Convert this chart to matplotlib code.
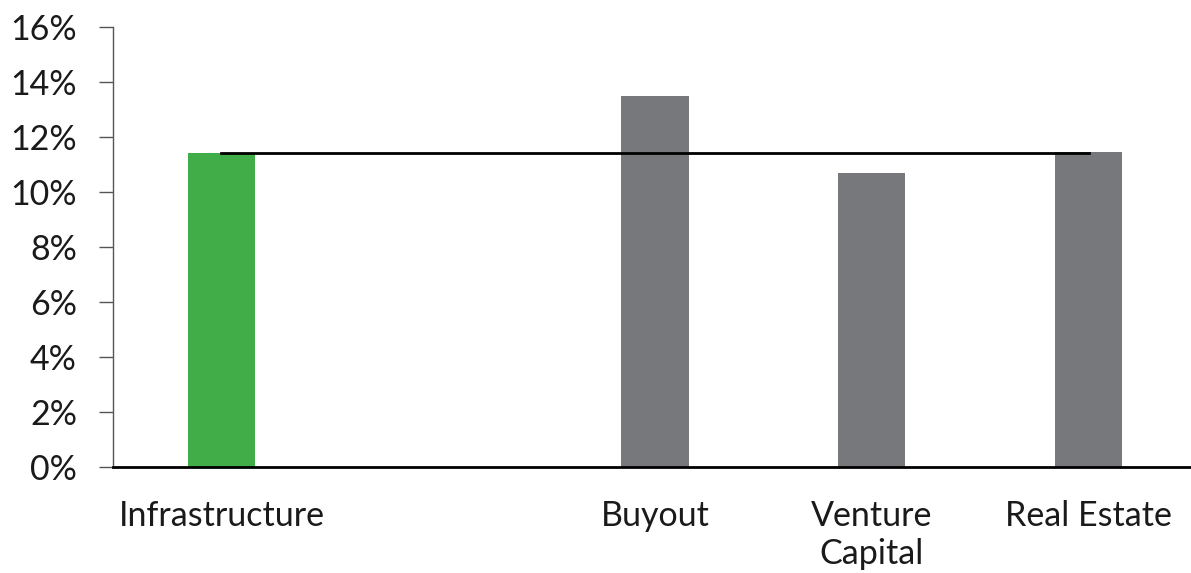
import matplotlib.pyplot as plt
import numpy as np

categories = ['Infrastructure', '', 'Buyout', 'Venture\nCapital', 'Real Estate']
returns = [11.41, np.nan, 13.49, 10.68, 11.44]
average = [11.43, 11.43, 11.43, 11.43, 11.43]
bar_colors = ['#41ad49', '#77787b', '#77787b', '#77787b', '#77787b']
yticks = [0, 2, 4, 6, 8, 10, 12, 14, 16]

plt.rcParams['font.family'] = ['Lato', 'DejaVu Sans']

fig = plt.figure(figsize=(11.91, 5.73), dpi=100)
ax = fig.add_axes([113 / 1191, 1 - 467 / 573, (1197 - 113) / 1191, (467 - 27) / 573])

x = np.arange(len(categories))
ax.bar(x, returns, width=0.31, color=bar_colors, zorder=2)
ax.plot(x, average, color='black', linewidth=2, zorder=3)

ax.set_xlim(-0.5, 4.5)
ax.set_ylim(0, 16)
ax.set_yticks(yticks)
ax.set_yticklabels([f'{t}%' for t in yticks], fontsize=24.5, color='#1a1a1a')
ax.set_xticks(x)
ax.set_xticklabels(categories, fontsize=24.5, color='#1a1a1a', va='top', linespacing=1.22)
ax.tick_params(axis='x', length=0, pad=24)
ax.tick_params(axis='y', length=10, width=1, color='#555555', pad=16)

ax.spines['top'].set_visible(False)
ax.spines['right'].set_visible(False)
ax.spines['left'].set_color('#555555')
ax.spines['left'].set_linewidth(1)
ax.spines['bottom'].set_color('black')
ax.spines['bottom'].set_linewidth(2)

fig.savefig('out.png', dpi=100)
